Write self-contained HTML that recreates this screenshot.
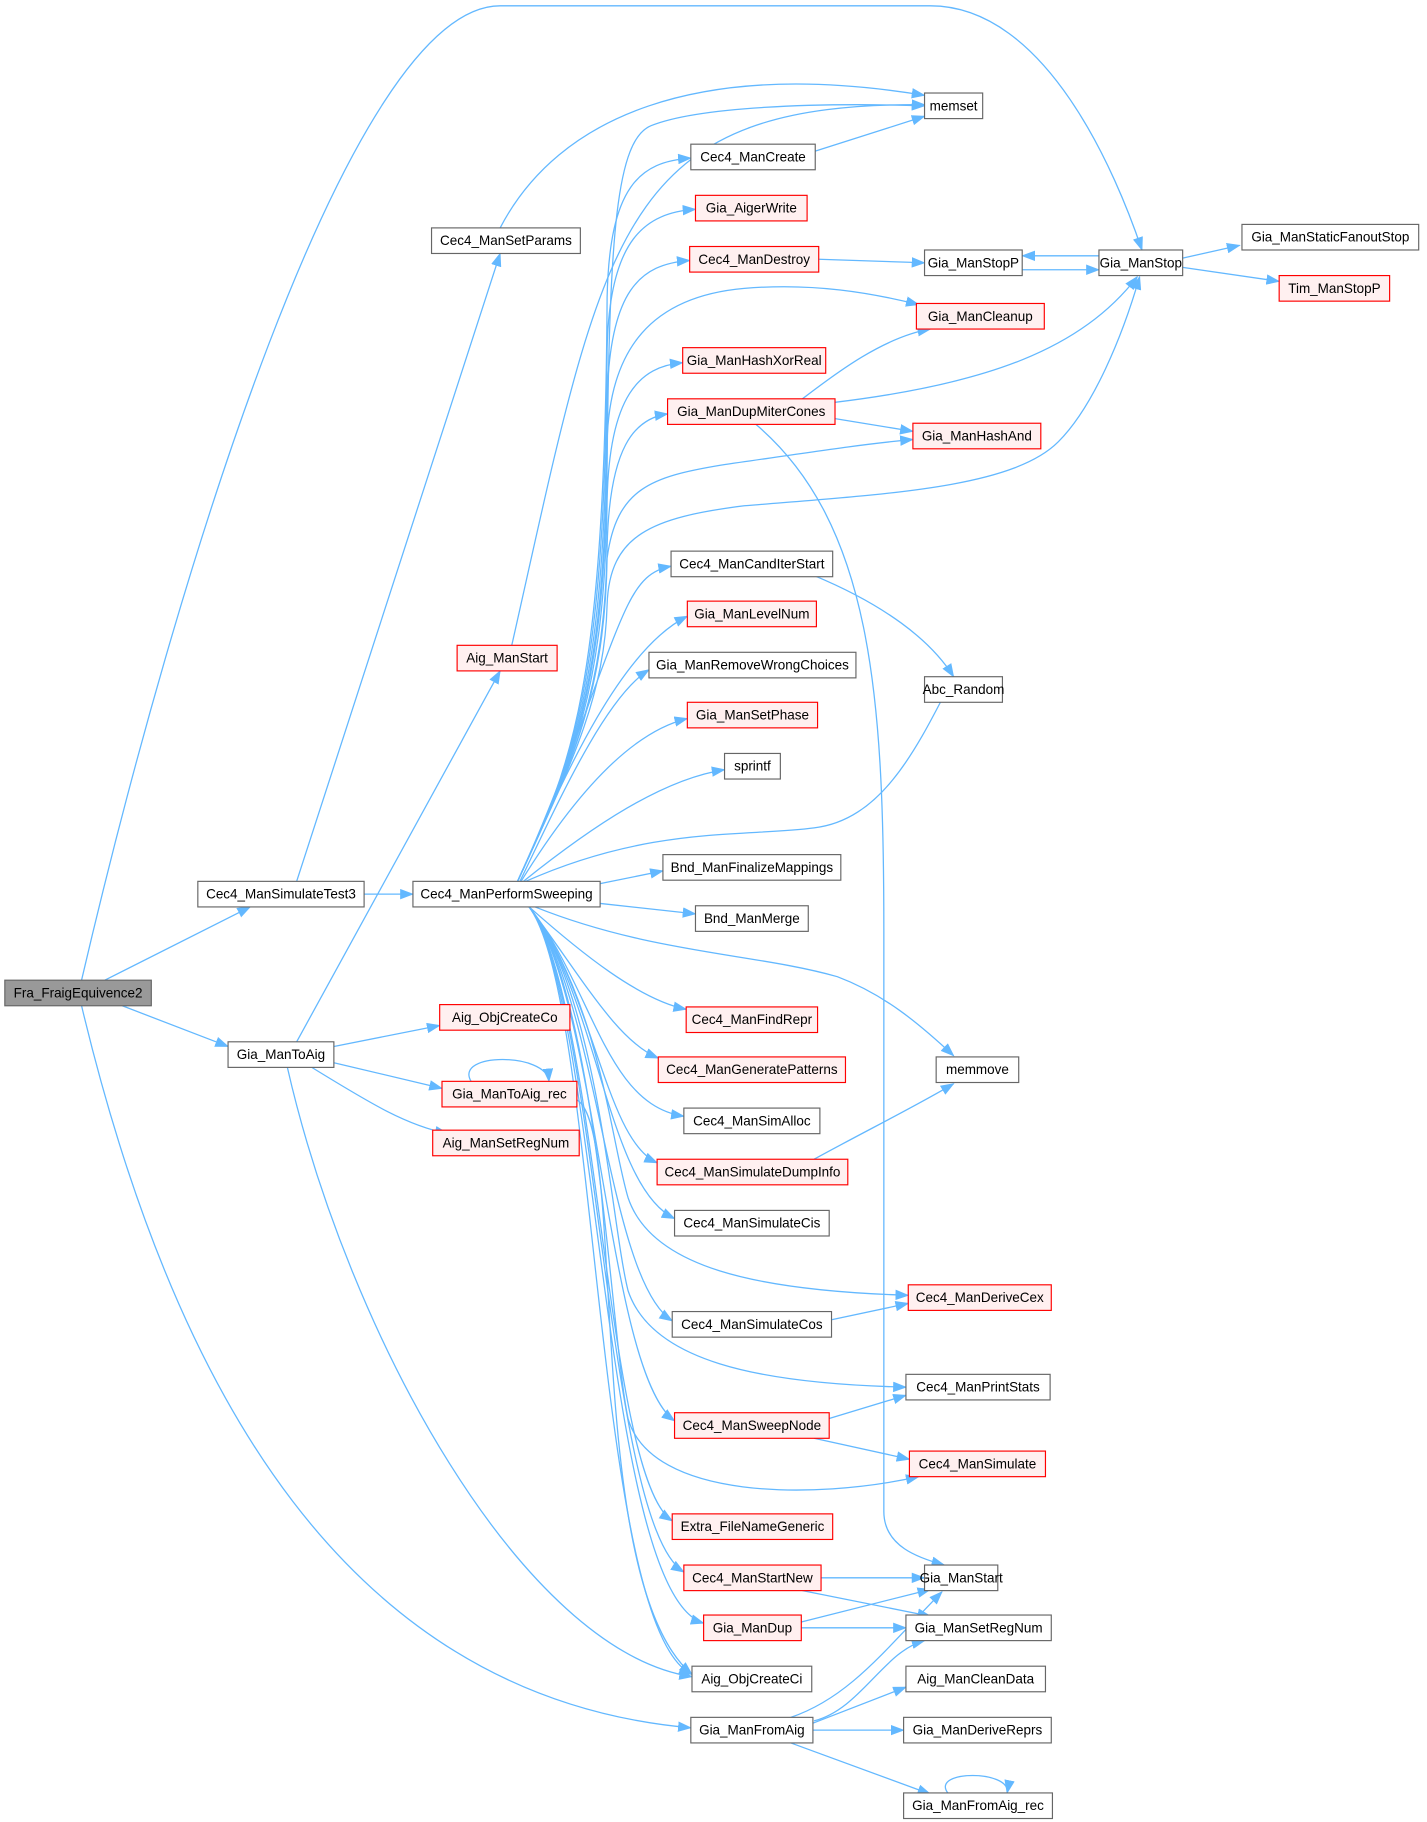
<!DOCTYPE html>
<html><head><meta charset="utf-8"><style>
html,body{margin:0;padding:0;background:#fff;}
svg{display:block}
text{font-family:"Liberation Sans",Arial,sans-serif;font-size:11.6px;fill:#000;text-anchor:middle;dominant-baseline:central}
.e{fill:none;stroke:#63b8ff;stroke-width:1.1}
.n{fill:#fff;stroke:#666;stroke-width:1}
.r{fill:#fff0f0;stroke:#ff0000;stroke-width:1}
.g{fill:#999;stroke:#666;stroke-width:1}
</style></head><body>
<svg width="1427" height="1822" viewBox="0 0 1227 1567" xmlns="http://www.w3.org/2000/svg">
<defs><marker id="a" markerWidth="12" markerHeight="9" refX="11" refY="4.5" orient="auto" markerUnits="userSpaceOnUse"><path d="M0,0 L12,4.5 L0,9 z" fill="#63b8ff"/></marker></defs>
<g marker-end="url(#a)">
<path class="e" d="M70,843 C150,500 300,5 430,5 L800,5 C900,5 960,150 982,215"/>
<path class="e" d="M90,843 L215,780"/>
<path class="e" d="M105,865 L196,900"/>
<path class="e" d="M70,865 C150,1200 300,1460 594,1486"/>
<path class="e" d="M255,758 L430,218"/>
<path class="e" d="M313,769 L355,769"/>
<path class="e" d="M430,196 C480,100 600,50 795,82"/>
<path class="e" d="M440,555 C520,200 530,88 795,90"/>
<path class="e" d="M255,896 L430,577"/>
<path class="e" d="M287,900 L378,882"/>
<path class="e" d="M287,914 L380,936"/>
<path class="e" d="M268,918 C320,950 350,968 385,975"/>
<path class="e" d="M247,918 C300,1150 450,1420 595,1442"/>
<path class="e" d="M405,930 C390,905 470,905 472,930"/>
<path class="e" d="M496,946 C540,970 500,1360 595,1440"/>
<!-- PerformSweeping fan up -->
<path class="e" d="M445,758 C490,660 520,600 522,400 C524,200 530,120 560,108 C600,92 700,88 795,91"/>
<path class="e" d="M445,758 C490,660 520,600 522,256 C524,160 550,139 594,136"/>
<path class="e" d="M445,758 C490,660 520,600 522,300 C524,205 555,183 598,180"/>
<path class="e" d="M445,758 C490,660 520,600 522,344 C524,250 550,227 593,224"/>
<path class="e" d="M445,758 C490,660 520,600 522,380 C524,300 560,255 640,248 C700,243 750,252 790,262"/>
<path class="e" d="M445,758 C490,660 520,600 522,430 C524,340 550,315 587,312"/>
<path class="e" d="M445,758 C490,660 520,600 522,470 C524,385 545,360 574,356"/>
<path class="e" d="M445,758 C490,660 520,600 522,480 C530,420 560,410 620,400 C690,390 740,382 785,378"/>
<path class="e" d="M445,758 C490,660 520,600 522,520 C524,460 560,445 640,435 C760,425 870,420 910,380 C940,350 965,290 980,238"/>
<path class="e" d="M445,758 C490,660 520,560 540,520 C550,500 560,490 577,487"/>
<path class="e" d="M445,758 C480,680 530,560 591,530"/>
<path class="e" d="M447,758 C480,690 520,600 558,576"/>
<path class="e" d="M448,758 C490,690 540,630 591,618"/>
<path class="e" d="M450,758 C510,710 570,670 623,662"/>
<path class="e" d="M452,758 C560,710 640,720 700,712 C760,705 790,640 820,582"/>
<path class="e" d="M516,760 L570,749"/>
<path class="e" d="M516,777 L598,786"/>
<path class="e" d="M460,780 C560,820 650,820 720,840 C760,855 790,880 820,908"/>
<!-- fan down -->
<path class="e" d="M455,780 C500,820 550,860 590,868"/>
<path class="e" d="M455,780 C500,840 530,895 566,910"/>
<path class="e" d="M455,780 C510,850 520,950 588,960"/>
<path class="e" d="M455,780 C510,850 520,980 565,1000"/>
<path class="e" d="M455,780 C515,860 522,1020 580,1048"/>
<path class="e" d="M455,780 C515,860 525,980 540,1030 C560,1090 650,1110 781,1114"/>
<path class="e" d="M455,780 C515,860 522,1100 578,1136"/>
<path class="e" d="M455,780 C515,860 525,1050 540,1110 C560,1170 650,1190 779,1193"/>
<path class="e" d="M455,780 C515,860 522,1180 580,1222"/>
<path class="e" d="M455,780 C515,860 525,1150 540,1220 C560,1290 700,1290 790,1270"/>
<path class="e" d="M455,780 C515,860 520,1270 578,1308"/>
<path class="e" d="M455,780 C515,860 520,1310 588,1352"/>
<path class="e" d="M455,780 C515,860 518,1370 605,1396"/>
<path class="e" d="M455,780 C515,860 510,1400 595,1440"/>
<!-- column 3 -> 4 -->
<path class="e" d="M701,130 L795,100"/>
<path class="e" d="M704,223 L795,226"/>
<path class="e" d="M879,232 L945,232"/>
<path class="e" d="M945,220 L879,220"/>
<path class="e" d="M1017,222 L1066,211"/>
<path class="e" d="M1017,230 L1100,242"/>
<path class="e" d="M690,343 C720,320 760,290 800,283"/>
<path class="e" d="M718,346 C850,330 930,300 978,238"/>
<path class="e" d="M718,360 L785,371"/>
<path class="e" d="M650,365 C750,450 760,600 760,800 L760,1300 C760,1330 790,1340 812,1346"/>
<path class="e" d="M700,495 C760,520 800,550 820,582"/>
<path class="e" d="M700,997 C740,975 790,950 820,932"/>
<path class="e" d="M715,1135 L781,1121"/>
<path class="e" d="M713,1220 L779,1200"/>
<path class="e" d="M700,1237 L782,1255"/>
<path class="e" d="M706,1357 L795,1357"/>
<path class="e" d="M690,1368 L800,1390"/>
<path class="e" d="M689,1395 L800,1367"/>
<path class="e" d="M689,1400 L779,1400"/>
<path class="e" d="M680,1477 C730,1460 760,1420 810,1369"/>
<path class="e" d="M700,1480 C740,1470 760,1420 795,1411"/>
<path class="e" d="M699,1482 L779,1451"/>
<path class="e" d="M699,1488 L777,1488"/>
<path class="e" d="M680,1499 L800,1543"/>
<path class="e" d="M815,1542 C800,1522 870,1522 866,1542"/>
</g>
<g>
<rect class="g" x="4" y="843" width="126" height="22"/><text x="67" y="854">Fra_FraigEquivence2</text>
<rect class="n" x="170" y="758" width="143" height="22"/><text x="241.5" y="769">Cec4_ManSimulateTest3</text>
<rect class="n" x="196" y="896" width="91" height="22"/><text x="241.5" y="907">Gia_ManToAig</text>
<rect class="n" x="371" y="196" width="128" height="22"/><text x="435" y="207">Cec4_ManSetParams</text>
<rect class="r" x="393" y="555" width="86" height="22"/><text x="436" y="566">Aig_ManStart</text>
<rect class="n" x="355" y="758" width="161" height="22"/><text x="435.5" y="769">Cec4_ManPerformSweeping</text>
<rect class="r" x="378" y="864" width="112" height="22"/><text x="434" y="875">Aig_ObjCreateCo</text>
<rect class="r" x="380" y="930" width="116" height="22"/><text x="438" y="941">Gia_ManToAig_rec</text>
<rect class="r" x="372" y="972" width="126" height="22"/><text x="435" y="983">Aig_ManSetRegNum</text>
<rect class="n" x="594" y="124" width="107" height="22"/><text x="647.5" y="135">Cec4_ManCreate</text>
<rect class="r" x="598" y="168" width="96" height="22"/><text x="646" y="179">Gia_AigerWrite</text>
<rect class="r" x="593" y="212" width="111" height="22"/><text x="648.5" y="223">Cec4_ManDestroy</text>
<rect class="r" x="587" y="299" width="123" height="22"/><text x="648.5" y="310">Gia_ManHashXorReal</text>
<rect class="r" x="574" y="343" width="144" height="22"/><text x="646" y="354">Gia_ManDupMiterCones</text>
<rect class="n" x="577" y="474" width="139" height="22"/><text x="646.5" y="485">Cec4_ManCandIterStart</text>
<rect class="r" x="591" y="517" width="111" height="22"/><text x="646.5" y="528">Gia_ManLevelNum</text>
<rect class="n" x="558" y="561" width="178" height="22"/><text x="647" y="572">Gia_ManRemoveWrongChoices</text>
<rect class="r" x="591" y="604" width="112" height="22"/><text x="647" y="615">Gia_ManSetPhase</text>
<rect class="n" x="623" y="648" width="48" height="22"/><text x="647" y="659">sprintf</text>
<rect class="n" x="570" y="735" width="153" height="22"/><text x="646.5" y="746">Bnd_ManFinalizeMappings</text>
<rect class="n" x="598" y="779" width="97" height="22"/><text x="646.5" y="790">Bnd_ManMerge</text>
<rect class="r" x="590" y="866" width="113" height="22"/><text x="646.5" y="877">Cec4_ManFindRepr</text>
<rect class="r" x="566" y="909" width="161" height="22"/><text x="646.5" y="920">Cec4_ManGeneratePatterns</text>
<rect class="n" x="588" y="953" width="117" height="22"/><text x="646.5" y="964">Cec4_ManSimAlloc</text>
<rect class="r" x="565" y="997" width="164" height="22"/><text x="647" y="1008">Cec4_ManSimulateDumpInfo</text>
<rect class="n" x="580" y="1041" width="133" height="22"/><text x="646.5" y="1052">Cec4_ManSimulateCis</text>
<rect class="n" x="578" y="1128" width="137" height="22"/><text x="646.5" y="1139">Cec4_ManSimulateCos</text>
<rect class="r" x="580" y="1215" width="133" height="22"/><text x="646.5" y="1226">Cec4_ManSweepNode</text>
<rect class="r" x="578" y="1302" width="138" height="22"/><text x="647" y="1313">Extra_FileNameGeneric</text>
<rect class="r" x="588" y="1346" width="118" height="22"/><text x="647" y="1357">Cec4_ManStartNew</text>
<rect class="r" x="605" y="1389" width="84" height="22"/><text x="647" y="1400">Gia_ManDup</text>
<rect class="n" x="595" y="1433" width="103" height="22"/><text x="646.5" y="1444">Aig_ObjCreateCi</text>
<rect class="n" x="594" y="1477" width="105" height="22"/><text x="646.5" y="1488">Gia_ManFromAig</text>
<rect class="n" x="795" y="80" width="50" height="22"/><text x="820" y="91">memset</text>
<rect class="n" x="795" y="215" width="84" height="22"/><text x="837" y="226">Gia_ManStopP</text>
<rect class="r" x="788" y="261" width="110" height="22"/><text x="843" y="272">Gia_ManCleanup</text>
<rect class="r" x="785" y="364" width="110" height="22"/><text x="840" y="375">Gia_ManHashAnd</text>
<rect class="n" x="795" y="582" width="67" height="22"/><text x="828.5" y="593">Abc_Random</text>
<rect class="n" x="805" y="909" width="71" height="22"/><text x="840.5" y="920">memmove</text>
<rect class="r" x="781" y="1105" width="123" height="22"/><text x="842.5" y="1116">Cec4_ManDeriveCex</text>
<rect class="n" x="779" y="1182" width="124" height="22"/><text x="841" y="1193">Cec4_ManPrintStats</text>
<rect class="r" x="782" y="1248" width="117" height="22"/><text x="840.5" y="1259">Cec4_ManSimulate</text>
<rect class="n" x="795" y="1346" width="63" height="22"/><text x="826.5" y="1357">Gia_ManStart</text>
<rect class="n" x="779" y="1389" width="125" height="22"/><text x="841.5" y="1400">Gia_ManSetRegNum</text>
<rect class="n" x="779" y="1433" width="120" height="22"/><text x="839" y="1444">Aig_ManCleanData</text>
<rect class="n" x="777" y="1477" width="127" height="22"/><text x="840.5" y="1488">Gia_ManDeriveReprs</text>
<rect class="n" x="777" y="1542" width="128" height="22"/><text x="841" y="1553">Gia_ManFromAig_rec</text>
<rect class="n" x="945" y="215" width="72" height="22"/><text x="981" y="226">Gia_ManStop</text>
<rect class="n" x="1068" y="193" width="152" height="22"/><text x="1144" y="204">Gia_ManStaticFanoutStop</text>
<rect class="r" x="1100" y="237" width="95" height="22"/><text x="1147.5" y="248">Tim_ManStopP</text>
</g>
</svg>
</body></html>
